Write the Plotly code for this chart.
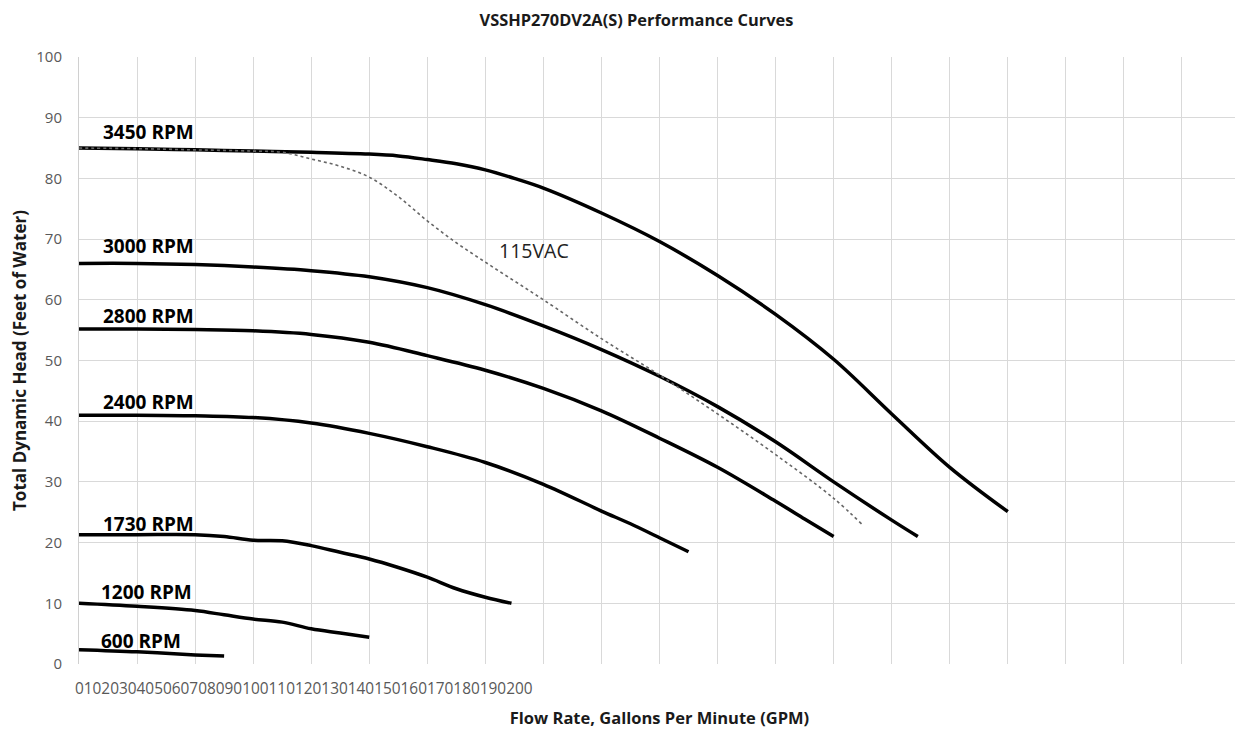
import plotly.graph_objects as go

# flow rate (GPM) and head (ft)
rpm3450_flow = [0, 10, 20, 30, 40, 50, 55, 60, 65, 70, 75, 80, 90, 100, 110, 120, 130, 140, 150, 160]
rpm3450_head = [85.0, 84.9, 84.7, 84.5, 84.3, 84.0, 83.7, 83.1, 82.4, 81.4, 80.0, 78.4, 74.3, 69.6, 64.0, 57.6, 50.2, 41.2, 32.4, 25.1]

vac115_flow = [0, 10, 20, 30, 35, 40, 45, 50, 55, 60, 65, 70, 75, 80, 90, 100, 110, 120, 130, 135]
vac115_head = [85.0, 84.9, 84.7, 84.5, 84.3, 83.2, 82.0, 80.2, 77.0, 73.0, 69.4, 66.2, 63.1, 60.0, 53.6, 47.6, 41.2, 34.5, 27.3, 22.9]

rpm3000_flow = [0, 10, 20, 30, 40, 50, 60, 70, 80, 90, 100, 110, 120, 130, 140, 144.5]
rpm3000_head = [66.0, 66.0, 65.8, 65.4, 64.8, 63.8, 62.0, 59.2, 55.7, 51.8, 47.4, 42.4, 36.6, 30.0, 23.7, 21.0]

rpm2800_flow = [0, 10, 20, 30, 40, 50, 60, 70, 80, 90, 100, 110, 120, 125, 130]
rpm2800_head = [55.2, 55.2, 55.1, 54.9, 54.3, 53.0, 50.8, 48.4, 45.4, 41.7, 37.2, 32.4, 26.8, 23.9, 21.0]

rpm2400_flow = [0, 10, 20, 30, 40, 50, 60, 70, 80, 90, 95, 100, 105]
rpm2400_head = [41.0, 41.0, 40.9, 40.6, 39.7, 38.0, 35.8, 33.2, 29.6, 25.2, 23.1, 20.8, 18.5]

rpm1730_flow = [0, 10, 20, 25, 30, 35, 40, 45, 50, 55, 60, 65, 70, 74.5]
rpm1730_head = [21.3, 21.3, 21.3, 21.0, 20.4, 20.3, 19.5, 18.4, 17.3, 15.9, 14.3, 12.4, 11.0, 10.0]

rpm1200_flow = [0, 10, 20, 25, 30, 35, 40, 45, 50]
rpm1200_head = [10.0, 9.5, 8.8, 8.1, 7.4, 6.9, 5.8, 5.1, 4.4]

rpm600_flow = [0, 10, 20, 25]
rpm600_head = [2.35, 2.0, 1.5, 1.3]

x_tick_labels = [str(v) for v in range(0, 201, 10)]

# curve labels: text, flow, head
curve_labels = ["3450 RPM", "3000 RPM", "2800 RPM", "2400 RPM", "1730 RPM", "1200 RPM", "600 RPM"]
curve_label_flow = [3.8, 3.8, 3.8, 3.8, 3.8, 3.5, 3.5]
curve_label_head = [87.6, 68.9, 57.3, 43.2, 23.1, 11.9, 3.8]

fig = go.Figure()

solid_curves = [
    (rpm3450_flow, rpm3450_head),
    (rpm3000_flow, rpm3000_head),
    (rpm2800_flow, rpm2800_head),
    (rpm2400_flow, rpm2400_head),
    (rpm1730_flow, rpm1730_head),
    (rpm1200_flow, rpm1200_head),
    (rpm600_flow, rpm600_head),
]
for (fx, hy), name in zip(solid_curves, curve_labels):
    fig.add_trace(go.Scatter(x=fx, y=hy, mode='lines', name=name,
                             line=dict(color='black', width=3.5, shape='spline', smoothing=1.0)))

fig.add_trace(go.Scatter(x=vac115_flow, y=vac115_head, mode='lines', name='115VAC',
                         line=dict(color='#666666', width=1.6, dash='dot', shape='spline', smoothing=1.0)))

# crammed tick labels like the original (labels placed back to back)
digit_w = 1.516
pos = []
cum = 0
for lab in x_tick_labels:
    pos.append(-0.7 + digit_w * (cum + len(lab) / 2))
    cum += len(lab)
fig.add_trace(go.Scatter(x=[pos[0], pos[-1]], y=[None, None], xaxis='x2', mode='lines',
                         hoverinfo='skip', showlegend=False))

for txt, fx, hy in zip(curve_labels, curve_label_flow, curve_label_head):
    fig.add_annotation(x=fx, y=hy, text='<b>' + txt + '</b>', showarrow=False, xanchor='left',
                       font=dict(size=19, color='black', family='Open Sans'))
fig.add_annotation(x=72.0, y=68.2, text='115VAC', showarrow=False, xanchor='left',
                   font=dict(size=19.5, color='#222', family='Open Sans'))

# page body adds 8px, so margins are shifted to land the plot at 79..1240 x 57..664
fig.update_layout(
    width=1243, height=731,
    margin=dict(l=71, r=11, t=49, b=75),
    plot_bgcolor='white', paper_bgcolor='white',
    showlegend=False,
    font=dict(family='Open Sans', color='#595959', size=15),
    title=dict(text='<b>VSSHP270DV2A(S) Performance Curves</b>', x=0.5056, xanchor='center',
               y=0.9836, yanchor='middle', font=dict(size=16.4, color='#1a1a1a')),
    xaxis=dict(range=[0, 200], tickvals=list(range(0, 201, 10)), showticklabels=False,
               showgrid=True, gridcolor='#d9d9d9', gridwidth=1, zeroline=False,
               showline=False, ticks='', automargin=False,
               title=dict(text='<b>Flow Rate, Gallons Per Minute (GPM)</b>', standoff=48,
                          font=dict(size=16.5, color='#1a1a1a'))),
    xaxis2=dict(range=[0, 200], overlaying='x', side='bottom', anchor='y', showgrid=False,
                zeroline=False, tickvals=pos, ticktext=x_tick_labels, ticks='', tickangle=0,
                automargin=False, ticklabelstandoff=14,
                tickfont=dict(size=15.4, color='#595959')),
    yaxis=dict(range=[0, 100], dtick=10, showgrid=True, gridcolor='#d9d9d9', gridwidth=1,
               zeroline=False, showline=True, linecolor='#d0d0d0', ticks='', ticklabelstandoff=13,
               automargin=False,
               title=dict(text='<b>Total Dynamic Head (Feet of Water)</b>', standoff=16,
                          font=dict(size=17, color='#1a1a1a'))),
)

fig.write_html("out.html")
